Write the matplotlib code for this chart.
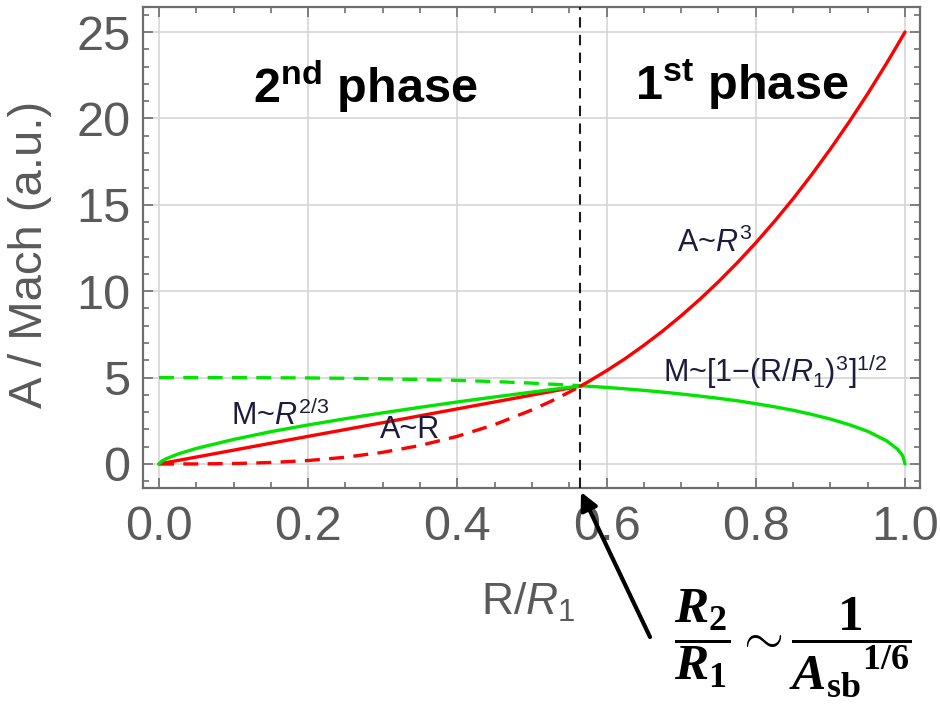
import matplotlib
matplotlib.use("Agg")
import matplotlib.pyplot as plt
from matplotlib.ticker import MultipleLocator

plt.rcParams['font.family'] = ['Liberation Sans', 'DejaVu Sans']
plt.rcParams['mathtext.fontset'] = 'custom'
plt.rcParams['mathtext.rm'] = 'Liberation Sans'
plt.rcParams['mathtext.it'] = 'Liberation Sans:italic'
plt.rcParams['mathtext.sf'] = 'Liberation Sans:bold'
plt.rcParams['mathtext.bf'] = 'Liberation Serif:italic:bold'
plt.rcParams['mathtext.tt'] = 'Liberation Serif:bold'

# ---- data -------------------------------------------------------------
# boundary between the two phases (R2/R1)
r2 = 0.565

# 1st phase: R2 <= R <= R1
r_phase1 = [0.565, 0.575, 0.6, 0.625, 0.65, 0.675, 0.7, 0.725, 0.75, 0.775,
            0.8, 0.825, 0.85, 0.875, 0.9, 0.925, 0.95, 0.975, 0.99, 0.997, 1.0]
area_phase1 = [4.51, 4.75, 5.40, 6.10, 6.87, 7.69, 8.58, 9.53, 10.55, 11.64,
               12.80, 14.04, 15.35, 16.75, 18.23, 19.79, 21.43, 23.17, 24.26,
               24.78, 25.0]
mach_phase1 = [4.53, 4.50, 4.43, 4.35, 4.26, 4.16, 4.05, 3.93, 3.80, 3.66,
               3.49, 3.31, 3.11, 2.87, 2.60, 2.28, 1.89, 1.35, 0.86, 0.47, 0.0]

# 2nd phase: 0 <= R <= R2
r_lin = [0.0, 0.1, 0.2, 0.3, 0.4, 0.5, 0.565]
area_phase2 = [0.0, 0.80, 1.60, 2.39, 3.19, 3.99, 4.51]

r_mach2 = [0.0, 0.004, 0.01, 0.025, 0.05, 0.1, 0.15, 0.2, 0.25, 0.3, 0.35,
           0.4, 0.45, 0.5, 0.565]
mach_phase2 = [0.0, 0.17, 0.31, 0.57, 0.90, 1.42, 1.87, 2.26, 2.62, 2.96,
               3.28, 3.59, 3.88, 4.16, 4.52]

# phase-1 laws continued into the 2nd phase (dashed)
r_ext = [0.0, 0.05, 0.1, 0.15, 0.2, 0.25, 0.3, 0.35, 0.4, 0.45, 0.5, 0.525,
         0.55, 0.565]
area_ext = [0.0, 0.003, 0.025, 0.084, 0.20, 0.39, 0.675, 1.07, 1.60, 2.28,
            3.13, 3.62, 4.16, 4.51]
mach_ext = [5.0, 5.0, 5.0, 4.99, 4.98, 4.96, 4.93, 4.89, 4.84, 4.77, 4.68,
            4.62, 4.57, 4.53]

x_ticks = [0.0, 0.2, 0.4, 0.6, 0.8, 1.0]
x_tick_labels = ['0.0', '0.2', '0.4', '0.6', '0.8', '1.0']
y_ticks = [0, 5, 10, 15, 20, 25]

# ---- figure -----------------------------------------------------------
W, H = 940, 707
fig = plt.figure(figsize=(W / 100, H / 100), dpi=100)
ax = fig.add_axes([143 / W, 1 - 488 / H, (920 - 143) / W, (488 - 7) / H])

RED = '#ff0000'
GREEN = '#00e400'
GRAY = '#5a5a5a'
LW = 2.4
DASH = (4.5, 2.8)

ax.set_xlim(-0.0214, 1.0201)
ax.set_ylim(-1.39, 26.45)

ax.plot(r_ext, mach_ext, color=GREEN, lw=LW, dashes=DASH, zorder=3)
ax.plot(r_ext, area_ext, color=RED, lw=LW, dashes=DASH, zorder=3)
ax.plot(r_lin, area_phase2, color=RED, lw=LW, zorder=4, solid_capstyle='round')
ax.plot(r_mach2, mach_phase2, color=GREEN, lw=LW, zorder=5, solid_capstyle='round')
ax.plot(r_phase1, mach_phase1, color=GREEN, lw=LW, zorder=4, solid_capstyle='round')
ax.plot(r_phase1, area_phase1, color=RED, lw=LW, zorder=5, solid_capstyle='round')

ax.axvline(r2, color='#1a1a1a', lw=1.5, dashes=(5, 3.5), zorder=6)

# grid, frame and ticks
ax.set_xticks(x_ticks)
ax.set_xticklabels(x_tick_labels)
ax.set_yticks(y_ticks)
ax.xaxis.set_minor_locator(MultipleLocator(0.05))
ax.yaxis.set_minor_locator(MultipleLocator(1))
ax.grid(True, which='major', color='#d6d6d6', lw=1.2, zorder=0)
ax.set_axisbelow(True)
for s in ax.spines.values():
    s.set_color('#6e6e6e')
    s.set_linewidth(1.6)
ax.tick_params(which='both', direction='in', top=True, right=True,
               colors='#6e6e6e', width=1.2, labelcolor=GRAY)
ax.tick_params(which='major', length=7, labelsize=35)
ax.tick_params(which='minor', length=4)
ax.tick_params(axis='x', which='major', pad=12)
ax.tick_params(axis='y', which='major', pad=9)

# axis titles
fig.text(30 / W, 1 - 254 / H, 'A / Mach (a.u.)', rotation=90, ha='center',
         va='center', fontsize=34, color=GRAY)
fig.text(528 / W, 1 - 615 / H, r'R/$R_1$', ha='center', va='baseline',
         fontsize=32, color=GRAY)

# phase headings
ax.text(0.126, 20.9, r'$\mathsf{2^{nd}}$ phase', fontsize=35, fontweight='bold',
        color='black', ha='left', va='baseline')
ax.text(0.638, 21.05, r'$\mathsf{1^{st}}$ phase', fontsize=35, fontweight='bold',
        color='black', ha='left', va='baseline')

# scaling-law labels
LBL = '#1e1c3c'
ax.text(0.0965, 2.26, r'M~$R^{2/3}$', fontsize=22, color=LBL, va='baseline', zorder=7)
ax.text(0.296, 1.50, 'A~R', fontsize=22, color=LBL, va='baseline', zorder=7)
ax.text(0.694, 12.27, r'A~$R^3$', fontsize=22, color=LBL, va='baseline', zorder=7)
ax.text(0.676, 4.75, r'M~[1$-$(R/$R_1$)$^3$]$^{1/2}$', fontsize=22, color=LBL,
        va='baseline', zorder=7)

# R2/R1 relation with arrow to the phase boundary
fig.text(674 / W, 1 - 643 / H,
         r'$\dfrac{\mathbf{R}_{\mathtt{2}}}{\mathbf{R}_{\mathtt{1}}}\sim'
         r'\dfrac{\mathtt{1}}{{\mathbf{A}_{\mathtt{sb}}}^{\mathtt{1/6}}}$',
         fontsize=37, color='black', ha='left', va='center')
fig.add_artist(matplotlib.patches.FancyArrowPatch(
    (650 / W, 1 - 637 / H), (581 / W, 1 - 492 / H),
    transform=fig.transFigure, arrowstyle='-|>', mutation_scale=26,
    lw=3, color='black', shrinkA=0, shrinkB=0))

fig.savefig('out.png', dpi=100)
